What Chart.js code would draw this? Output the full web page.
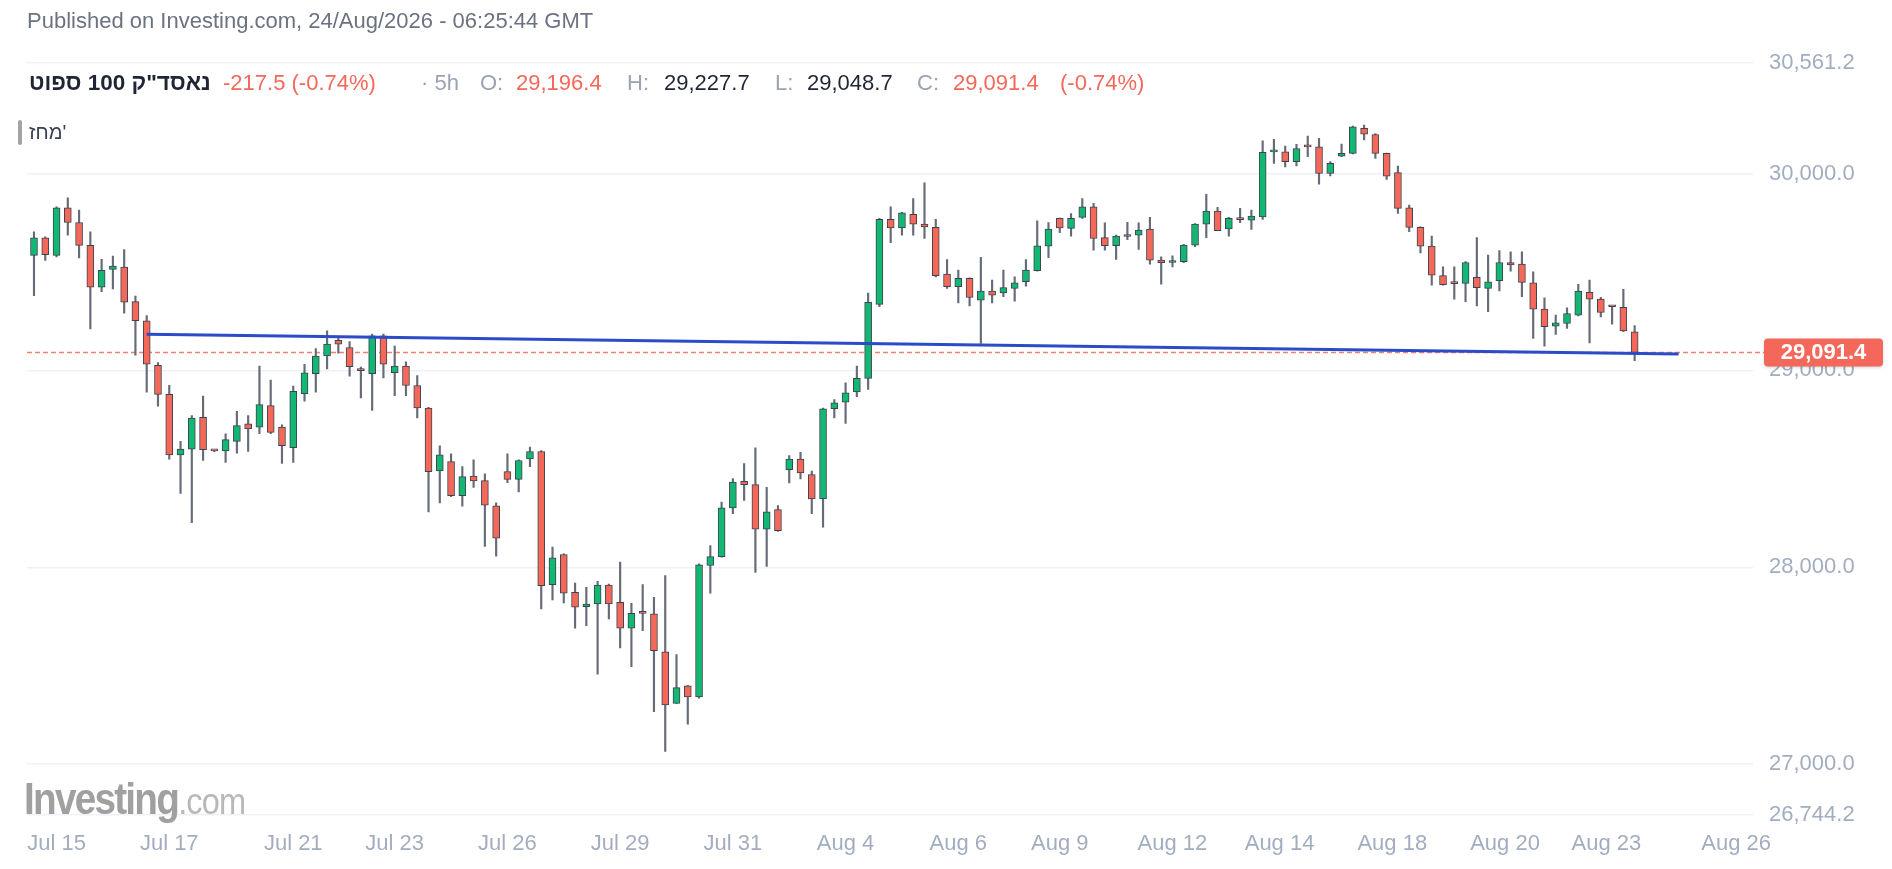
<!DOCTYPE html>
<html><head><meta charset="utf-8">
<script src="https://cdn.jsdelivr.net/npm/chart.js@4.4.1/dist/chart.umd.min.js"></script>
<style>
html,body{margin:0;padding:0;background:#fff;}
body{width:1892px;height:869px;position:relative;overflow:hidden;font-family:"Liberation Sans",Arial,sans-serif;}
#wrap{position:absolute;left:0;top:0;width:1892px;height:869px;}
.t{position:absolute;white-space:nowrap;line-height:1;}
.g{color:#9aa3b2}.r{color:#f4685a}.d{color:#1f2633}
</style></head><body>
<div id="wrap"><canvas id="c" width="1892" height="869"></canvas></div>
<div class="t" style="left:27px;top:10px;font-size:22px;color:#6b7280">Published on Investing.com, 24/Aug/2026 - 06:25:44 GMT</div>
<div class="t d" style="left:29px;top:72px;font-size:22.5px;font-weight:bold"><span dir="rtl" style="unicode-bidi:isolate">נאסד"ק 100 ספוט</span></div>
<div class="t r" style="left:223px;top:72px;font-size:22px">-217.5 (-0.74%)</div>
<div class="t g" style="left:421px;top:72px;font-size:22px">· 5h</div>
<div class="t g" style="left:480px;top:72px;font-size:22px">O:</div>
<div class="t r" style="left:516px;top:72px;font-size:22px">29,196.4</div>
<div class="t g" style="left:627px;top:72px;font-size:22px">H:</div>
<div class="t d" style="left:664px;top:72px;font-size:22px">29,227.7</div>
<div class="t g" style="left:775px;top:72px;font-size:22px">L:</div>
<div class="t d" style="left:807px;top:72px;font-size:22px">29,048.7</div>
<div class="t g" style="left:917px;top:72px;font-size:22px">C:</div>
<div class="t r" style="left:953px;top:72px;font-size:22px">29,091.4</div>
<div class="t r" style="left:1060px;top:72px;font-size:22px">(-0.74%)</div>
<div style="position:absolute;left:18px;top:120px;width:4px;height:25px;border-radius:2px;background:#a3a3a3"></div>
<div class="t" style="left:29px;top:122px;font-size:20px;color:#374151">מחז'</div>
<div class="t" style="left:24px;top:777px;font-size:44px;font-weight:bold;color:#a0a0a0;letter-spacing:-2px;transform:scaleX(0.88);transform-origin:left">Investing<span style="font-size:37px;font-weight:normal;color:#b8b8b8;letter-spacing:-1px">.com</span></div>
<script>
const opens=[29584,29673,29584,29826,29751,29635,29423,29513,29525,29349,
29252,29026,28878,28571,28600,28762,28594,28591,28639,28729,
28712,28821,28712,28608,28882,28983,29073,29153,29116,29001,
28983,29175,28988,29022,28923,28809,28489,28537,28363,28463,
28440,28312,28486,28446,28550,28588,27912,28065,27873,27800,
27814,27910,27822,27691,27767,27763,27571,27308,27398,27342,
28009,28054,28302,28437,28420,28194,28293,28496,28550,28471,
28347,28805,28839,28891,28959,29335,29767,29724,29792,29743,
29726,29489,29425,29467,29357,29403,29394,29416,29450,29506,
29631,29772,29721,29777,29831,29674,29633,29682,29687,29718,
29560,29548,29552,29636,29743,29809,29718,29767,29763,29780,
30110,30110,30060,30136,30136,30000,30088,30102,30229,30198,
30102,30004,29826,29726,29631,29481,29442,29442,29472,29416,
29455,29548,29540,29445,29311,29225,29238,29281,29396,29362,
29324,29320,29196.4];
const highs=[29704,29678,29831,29877,29814,29704,29564,29581,29613,29377,
29278,29039,28924,28639,28770,28869,28597,28678,28792,28770,
29022,28951,28724,28920,29031,29111,29201,29167,29146,29017,
29184,29184,29124,29043,28974,28812,28617,28576,28511,28545,
28474,28327,28576,28545,28610,28592,28102,28068,27920,27898,
27929,27915,28026,27817,27912,27847,27958,27556,27400,28017,
28110,28331,28450,28527,28606,28406,28313,28567,28584,28488,
28808,28852,28937,29022,29392,29772,29831,29803,29873,29953,
29767,29563,29509,29470,29574,29459,29509,29475,29563,29760,
29751,29774,29797,29873,29848,29750,29687,29752,29750,29777,
29577,29582,29640,29746,29894,29828,29777,29823,29814,30166,
30173,30139,30148,30190,30178,30060,30149,30241,30246,30203,
30104,30038,29840,29729,29682,29526,29526,29552,29675,29586,
29608,29602,29602,29501,29369,29281,29318,29437,29459,29371,
29327,29411,29227.7];
const lows=[29380,29559,29576,29687,29571,29210,29400,29414,29291,29077,
28889,28818,28549,28375,28227,28542,28587,28532,28580,28588,
28678,28678,28528,28532,28843,28889,29008,29087,28971,28860,
28796,28962,28872,28872,28758,28281,28327,28358,28310,28406,
28106,28056,28429,28383,28511,27788,27834,27819,27691,27703,
27457,27737,27590,27495,27678,27267,27064,27308,27203,27335,
27868,28051,28272,28340,27974,28004,28182,28428,28449,28272,
28204,28759,28730,28866,28903,29323,29648,29687,29687,29670,
29475,29416,29343,29328,29137,29343,29374,29352,29428,29504,
29572,29699,29682,29772,29611,29611,29563,29664,29614,29540,
29438,29526,29547,29628,29674,29709,29682,29750,29716,29767,
30051,30034,30038,30085,29946,29988,30085,30100,30170,30076,
29970,29797,29704,29597,29433,29433,29362,29349,29328,29298,
29404,29504,29374,29162,29123,29183,29213,29277,29140,29272,
29235,29196,29048.7];
const closes=[29673,29588,29826,29751,29635,29423,29508,29530,29346,29252,
29031,28878,28571,28600,28758,28597,28591,28648,28719,28702,
28826,28685,28617,28894,28988,29073,29133,29133,29019,28999,
29175,29031,29022,28923,28809,28486,28571,28363,28460,28438,
28315,28148,28446,28542,28588,27907,28048,27869,27797,27813,
27910,27814,27691,27766,27766,27576,27301,27389,27342,28012,
28054,28302,28433,28420,28194,28281,28186,28550,28479,28347,
28805,28835,28886,28959,29345,29767,29724,29800,29743,29729,
29481,29425,29467,29370,29403,29382,29420,29445,29509,29633,
29718,29724,29772,29831,29670,29633,29682,29680,29712,29560,
29547,29557,29636,29743,29809,29709,29772,29766,29784,30107,
30111,30060,30127,30135,30000,30051,30102,30237,30200,30102,
29987,29823,29726,29631,29484,29435,29441,29548,29420,29450,
29548,29535,29447,29311,29222,29242,29289,29403,29362,29294,
29323,29201,29091.4];
const tickIdx=[2,12,23,32,42,52,62,72,82,91,101,110.5,120.5,130.5,139.5,151];
const tickLabels=['Jul 15','Jul 17','Jul 21','Jul 23','Jul 26','Jul 29','Jul 31','Aug 4','Aug 6','Aug 9','Aug 12','Aug 14','Aug 18','Aug 20','Aug 23','Aug 26'];
const yTicks=[26744.2,27000,28000,29000,30000,30561.2];
const trendX=[10,145.9];
const trendY=[29184,29083];

const GREEN='#12b773', RED='#f4685a';
const bodies=opens.map((o,i)=>({x:i,y:[o,closes[i]]}));
const wicks=lows.map((l,i)=>({x:i,y:[l,highs[i]]}));
const bodyColors=opens.map((o,i)=>closes[i]>=o?GREEN:RED);
const trend=trendX.map((x,i)=>({x:x,y:trendY[i]}));
const lastClose=closes[closes.length-1];
const fmt=v=>Number(v).toLocaleString('en-US',{minimumFractionDigits:1,maximumFractionDigits:1});

const lastPrice={
  id:'lastPrice',
  beforeDatasetsDraw(chart){
    const c=chart.ctx, y=chart.scales.y.getPixelForValue(lastClose);
    c.save();c.strokeStyle='#f47f75';c.lineWidth=1.5;c.setLineDash([5,3]);
    c.beginPath();c.moveTo(chart.chartArea.left,y);c.lineTo(1764,y);c.stroke();c.restore();
  },
  afterDraw(chart){
    const c=chart.ctx, y=chart.scales.y.getPixelForValue(lastClose);
    const x0=1764,w=119,h=28;
    c.save();
    c.shadowColor='rgba(0,0,0,0.18)';c.shadowBlur=3;c.shadowOffsetY=1;
    c.fillStyle='#f4675b';c.beginPath();c.roundRect(x0,y-h/2,w,h,4);c.fill();
    c.shadowColor='transparent';
    c.fillStyle='#fff';c.font='bold 22px "Liberation Sans", Arial, sans-serif';
    c.textAlign='center';c.textBaseline='middle';c.fillText(fmt(lastClose),x0+w/2,y+1);
    c.restore();
  }
};

new Chart(document.getElementById('c'),{
  type:'bar',
  data:{datasets:[
    {type:'line',data:trend,borderColor:'#2b4bc7',borderWidth:3,pointRadius:0,order:-1},
    {data:bodies,backgroundColor:bodyColors,borderColor:'#3d4350',borderWidth:1,borderSkipped:false,barThickness:7,minBarLength:2,grouped:false,order:0},
    {data:wicks,backgroundColor:'#656b77',borderWidth:0,barThickness:1.5,grouped:false,order:1}
  ]},
  options:{
    responsive:false,animation:false,events:[],
    layout:{padding:{left:27,top:63,right:0,bottom:0}},
    plugins:{legend:{display:false},tooltip:{enabled:false}},
    scales:{
      x:{type:'linear',min:-0.62,max:152.5,offset:false,
        grid:{display:false},border:{display:false},
        afterBuildTicks(s){s.ticks=tickIdx.map(v=>({value:v}));},
        afterFit(s){s.height=54.5;},
        ticks:{autoSkip:false,maxRotation:0,padding:8,color:'#a3adc0',
          font:{size:22,family:'"Liberation Sans", Arial, sans-serif'},
          callback:(v)=>tickLabels[tickIdx.indexOf(v)]}},
      y:{position:'right',min:26744.2,max:30561.2,
        afterBuildTicks(s){s.ticks=yTicks.map(v=>({value:v}));},
        afterFit(s){s.width=139;},
        grid:{color:'#eef1f6',drawTicks:false,lineWidth:1.5},border:{display:false},
        ticks:{padding:16,color:'#a3adc0',font:{size:22,family:'"Liberation Sans", Arial, sans-serif'},
          callback:v=>fmt(v)}}
    }
  },
  plugins:[lastPrice]
});
</script>
</body></html>
